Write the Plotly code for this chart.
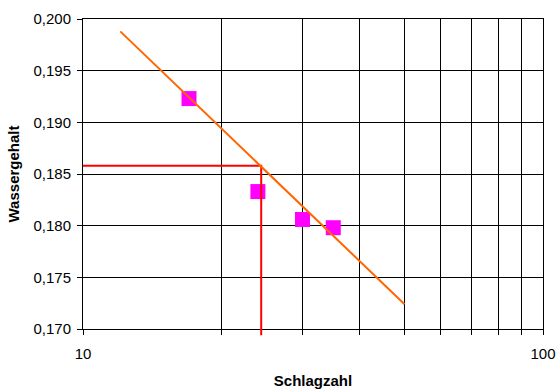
import plotly.graph_objects as go

# Measured blow counts and water contents
schlagzahl = [17.0, 24.0, 30.0, 35.0]
wassergehalt = [0.1923, 0.1833, 0.1806, 0.1798]

# Logarithmic trend line end points
trend_x = [12.05, 50.0]
trend_y = [0.1988, 0.1724]

# Reading of the trend line (liquid limit construction)
read_x = 24.4
read_y = 0.1858

x_ticks = [10, 20, 30, 40, 50, 60, 70, 80, 90, 100]
x_ticktext = ["10", "", "", "", "", "", "", "", "", "100"]
y_min, y_max, y_step = 0.170, 0.200, 0.005

FONT = "Arial, Liberation Sans, sans-serif"

fig = go.Figure()

fig.add_trace(go.Scatter(
    x=schlagzahl, y=wassergehalt, mode="markers",
    marker=dict(symbol="square", size=15, color="#FF00FF"),
    showlegend=False,
))

# Red reading lines: horizontal to the y axis, vertical down to the x axis
fig.add_trace(go.Scatter(
    x=[10, read_x, read_x], y=[read_y, read_y, y_min], mode="lines",
    line=dict(color="#FF0000", width=2), showlegend=False,
))

fig.add_trace(go.Scatter(
    x=trend_x, y=trend_y, mode="lines",
    line=dict(color="#FF6600", width=2), showlegend=False,
))

# short red stub below the x axis
fig.add_shape(type="line", xref="x", yref="paper",
              x0=read_x, x1=read_x, y0=-0.02, y1=0,
              line=dict(color="#FF0000", width=2))

fig.update_layout(
    width=557, height=390,
    margin=dict(l=83, r=14, t=19, b=61, autoexpand=False),
    paper_bgcolor="white", plot_bgcolor="white",
    separators=",.",
    font=dict(family=FONT, size=15, color="black"),
)

fig.update_xaxes(
    type="log", range=[1, 2], automargin=False,
    tickvals=x_ticks, ticktext=x_ticktext,
    ticks="outside", ticklen=5, tickcolor="black",
    showgrid=True, gridcolor="black", gridwidth=1,
    showline=True, linecolor="black", linewidth=1, mirror=True,
    ticklabelstandoff=6,
    title=dict(text="<b>Schlagzahl</b>", standoff=14,
               font=dict(family=FONT, size=15)),
    zeroline=False,
)

fig.update_yaxes(
    range=[y_min, y_max], dtick=y_step, tick0=y_min, automargin=False,
    tickformat=".3f",
    ticks="outside", ticklen=5, tickcolor="black",
    showgrid=True, gridcolor="black", gridwidth=1,
    showline=True, linecolor="black", linewidth=1, mirror=True,
    ticklabelstandoff=3,
    title=dict(text="<b>Wassergehalt</b>", standoff=10,
               font=dict(family=FONT, size=15)),
    zeroline=False,
)

fig.write_html("out.html")
